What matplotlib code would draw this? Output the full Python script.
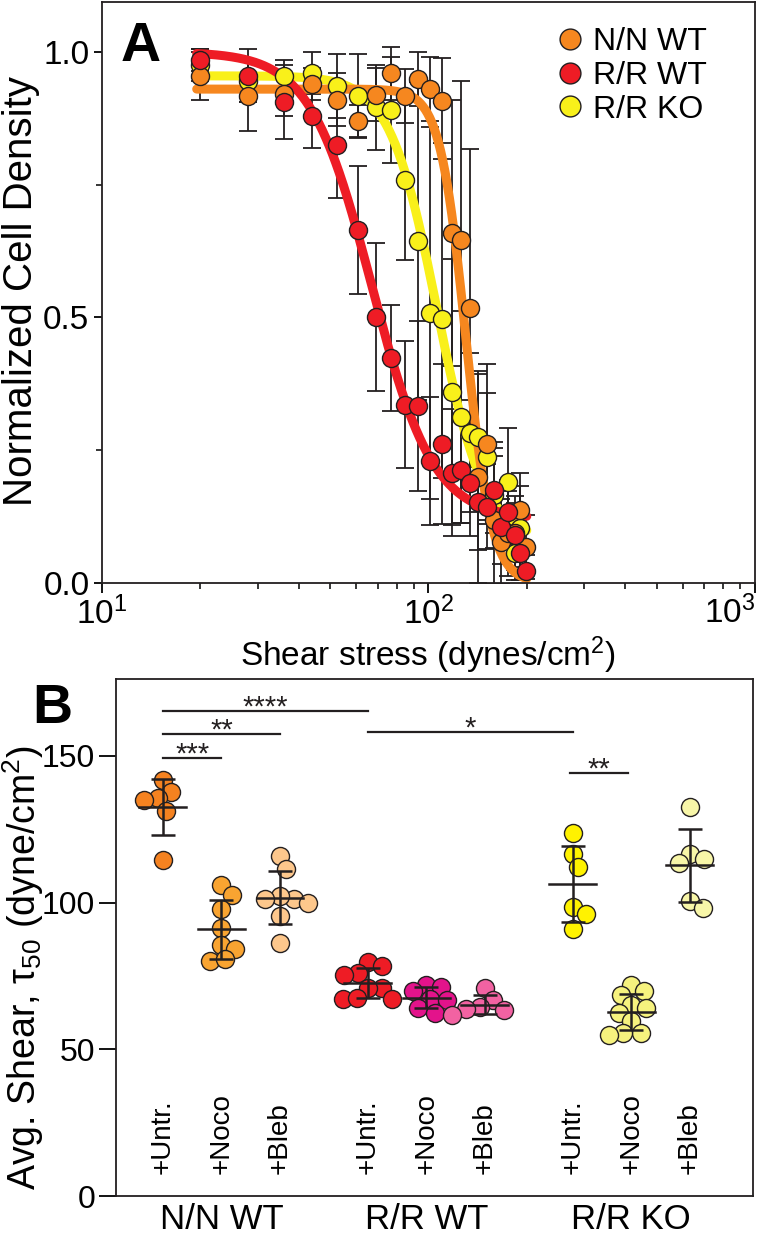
import numpy as np
import matplotlib
matplotlib.use("Agg")
import matplotlib.pyplot as plt
from matplotlib.lines import Line2D

plt.rcParams['font.family'] = ['Liberation Sans', 'DejaVu Sans']
plt.rcParams['mathtext.fontset'] = 'custom'
plt.rcParams['mathtext.rm'] = 'Liberation Sans'
plt.rcParams['mathtext.it'] = 'Liberation Sans:italic'
plt.rcParams['mathtext.bf'] = 'Liberation Sans:bold'
plt.rcParams['mathtext.default'] = 'regular'

# ---------------- Panel A data ----------------
shear = [20, 28, 36, 44, 52.6, 60.7, 69, 77, 85, 93, 101, 110, 118, 126, 134,
         142, 151, 159, 167, 175, 184, 191, 199]
nn_wt = [0.955, 0.917, 0.92, 0.94, 0.91, 0.87, 0.919, 0.96, 0.917, 0.949, 0.93,
         0.908, 0.659, 0.645, 0.518, 0.200, 0.262, 0.119, 0.078, 0.094, 0.094,
         0.137, 0.068]
nn_wt_sd = [0.045, 0.065, 0.04, 0.03, 0.05, 0.03, 0.05, 0.05, 0.05, 0.05, 0.06,
            0.08, 0.25, 0.30, 0.30, 0.20, 0.15, 0.12, 0.08, 0.08, 0.07, 0.07, 0.06]
rr_wt = [0.985, 0.955, 0.906, 0.88, 0.825, 0.665, 0.501, 0.424, 0.336, 0.333,
         0.230, 0.262, 0.208, 0.213, 0.188, 0.153, 0.144, 0.175, 0.106, 0.134,
         0.09, 0.056, 0.023]
rr_wt_sd = [0.02, 0.05, 0.07, 0.06, 0.10, 0.12, 0.14, 0.10, 0.12, 0.16, 0.12,
            0.15, 0.12, 0.10, 0.10, 0.09, 0.08, 0.08, 0.07, 0.06, 0.06, 0.05, 0.03]
rr_ko = [0.975, 0.945, 0.955, 0.96, 0.936, 0.917, 0.896, 0.89, 0.759, 0.644,
         0.508, 0.498, 0.360, 0.313, 0.283, 0.274, 0.238, 0.166, np.nan, 0.191,
         0.056, 0.103, np.nan]
rr_ko_sd = [0.03, 0.04, 0.03, 0.04, 0.06, 0.08, 0.08, 0.10, 0.15, 0.30, 0.35,
            0.30, 0.25, 0.20, 0.15, 0.12, 0.12, 0.10, np.nan, 0.10, 0.05, 0.08, np.nan]

# sigmoid fit parameters: top, bottom, x50, hill
fit_nn_wt = [0.93, 0.0, 130, 11]
fit_rr_wt = [1.0, 0.12, 67, 4.6]
fit_rr_ko = [0.955, 0.08, 106, 6]

series_names = ['N/N WT', 'R/R WT', 'R/R KO']
c_orange = '#F6871F'
c_red = '#EE1C25'
c_yellow = '#F9F01A'
x_ticks = [10, 100, 1000]
x_ticklabels = [r'$10^{1}$', r'$10^{2}$', r'$10^{3}$']

# ---------------- Panel B data ----------------
groups = ['N/N WT', 'R/R WT', 'R/R KO']
treatments = ['+Untr.', '+Noco', '+Bleb']
nn_untr = [141.8, 137.8, 135.5, 135.0, 131.3, 114.5]
nn_noco = [106.0, 102.6, 97.7, 91.2, 85.5, 84.1, 80.1, 80.7]
nn_bleb = [115.9, 111.5, 101.2, 102.2, 101.1, 100.0, 95.4, 86.3]
wt_untr = [79.9, 78.4, 76.1, 75.3, 70.8, 70.8, 67.1, 67.4, 67.1]
wt_noco = [71.9, 71.3, 69.7, 67.1, 66.8, 64.0, 62.5]
wt_bleb = [70.8, 66.8, 64.5, 63.4, 63.6, 61.7]
ko_untr = [123.6, 116.6, 112.0, 98.4, 96.1, 91.0]
ko_noco = [71.9, 69.7, 68.5, 65.1, 64.0, 62.5, 59.5, 55.7, 55.4, 54.9]
ko_bleb = [132.5, 116.6, 114.9, 113.4, 100.5, 98.1]
b_sets = [nn_untr, nn_noco, nn_bleb, wt_untr, wt_noco, wt_bleb, ko_untr, ko_noco, ko_bleb]
b_colors = ['#F58220', '#F9A431', '#FDC78C', '#EE1C25', '#E3138B', '#F262A2',
            '#FFF200', '#F6F27E', '#F8F6A8']
b_pos = [0, 1, 2, 3.5, 4.5, 5.5, 7, 8, 9]
# significance: (x1, x2, y, label)
sig_x1 = [0, 0, 0, 3.5, 6.95]
sig_x2 = [1, 2, 3.5, 7, 7.95]
sig_y = [149.2, 157.5, 165.3, 158.3, 144.2]
sig_lab = ['***', '**', '****', '*', '**']

W, H = 777, 1236
fig = plt.figure(figsize=(W / 100, H / 100), dpi=100)

# ================= Panel A =================
axA = fig.add_axes([102 / W, 1 - 583 / H, (755 - 102) / W, (583 - 2) / H])
axA.set_xscale('log')
axA.set_xlim(10, 1000)
axA.set_ylim(0, 1.094)
xs = np.array(shear, dtype=float)
xf = np.logspace(np.log10(19.5), np.log10(200), 300)

def sig(x, p):
    t, b, c, h = p
    return b + (t - b) / (1 + (x / c) ** h)

data_A = [(rr_ko, rr_ko_sd, fit_rr_ko, c_yellow),
          (nn_wt, nn_wt_sd, fit_nn_wt, c_orange),
          (rr_wt, rr_wt_sd, fit_rr_wt, c_red)]
for ys, sd, p, c in data_A:
    axA.errorbar(xs, ys, yerr=sd, fmt='none', ecolor='#231F20', elinewidth=1.3,
                 capsize=6.5, capthick=1.3, zorder=1)
for ys, sd, p, c in data_A:
    axA.plot(xf, sig(xf, p), color=c, lw=6.5, solid_capstyle='round', zorder=2)
for ys, sd, p, c in data_A:
    axA.plot(xs, ys, 'o', ms=13, mfc=c, mec='#231F20', mew=1.0, zorder=3)

axA.set_yticks([0, 0.5, 1.0])
axA.set_yticklabels(['0.0', '0.5', '1.0'])
axA.set_yticks([0.25, 0.75], minor=True)
axA.set_xticks(x_ticks)
axA.set_xticklabels(x_ticklabels[:-1] + [''])
axA.text(x_ticks[-1], -0.022, x_ticklabels[-1], ha='right', va='top',
         fontsize=24, transform=axA.get_xaxis_transform(), clip_on=False)
axA.tick_params(axis='y', which='major', labelsize=24, length=6, width=1.3,
                direction='out', pad=3)
axA.tick_params(axis='x', which='major', labelsize=24, length=7, width=1.3,
                direction='out', pad=3)
axA.tick_params(axis='both', which='minor', length=4, width=1.1, direction='out')
for s in axA.spines.values():
    s.set_linewidth(1.3)
    s.set_color('#231F20')

fig.text(21 / W, 1 - 291 / H, 'Normalized Cell Density', rotation=90,
         ha='center', va='center', fontsize=29)
fig.text(428 / W, 1 - 666 / H, 'Shear stress (dynes/cm$^{2}$)', ha='center',
         va='baseline', fontsize=24)
axA.text(0.029, 0.8986, 'A', transform=axA.transAxes, fontsize=40,
         fontweight='bold', ha='left', va='baseline')

handles = [Line2D([], [], ls='none', marker='o', ms=15, mfc=c, mec='#231F20', mew=1.0)
           for c in [c_orange, c_red, c_yellow]]
axA.legend(handles, series_names, loc='upper right', bbox_to_anchor=(0.955, 0.99),
           frameon=False, fontsize=23, handletextpad=0.2, labelspacing=0.12,
           handlelength=1.0, borderaxespad=0.2)

# ================= Panel B =================
axB = fig.add_axes([116 / W, 1 - 1196 / H, (753 - 116) / W, (1196 - 679) / H])
axB.set_xlim(-0.8, 10.08)
axB.set_ylim(0, 176.2)

def swarm(vals, center, ax, diam_px):
    tr = ax.transData
    px_unit = tr.transform((1, 0))[0] - tr.transform((0, 0))[0]
    order = np.argsort(vals)[::-1]
    placed = []
    xo = np.zeros(len(vals))
    step = 0.5
    for i in order:
        ypx = tr.transform((0, vals[i]))[1]
        k = 0
        while True:
            cands = [k * step] if k == 0 else [k * step, -k * step]
            ok_off = None
            for off in cands:
                if all((off - px) ** 2 + (ypx - py) ** 2 >= (0.8 * diam_px) ** 2
                       for px, py in placed):
                    ok_off = off
                    break
            if ok_off is not None:
                placed.append((ok_off, ypx))
                xo[i] = ok_off / px_unit
                break
            k += 1
    return center + xo

for vals, col, pos in zip(b_sets, b_colors, b_pos):
    v = np.array(vals)
    xpos = swarm(v, pos, axB, 18)
    axB.plot(xpos, v, 'o', ms=13, mfc=col, mec='#231F20', mew=1.0, zorder=2)
    m = v.mean()
    sd = v.std(ddof=1)
    axB.plot([pos - 0.4, pos + 0.4], [m, m], color='#231F20', lw=1.8, zorder=3)
    axB.errorbar([pos], [m], yerr=[sd], fmt='none', ecolor='#231F20',
                 elinewidth=1.8, capsize=8.5, capthick=1.8, zorder=3)

for x1, x2, y, lab in zip(sig_x1, sig_x2, sig_y, sig_lab):
    axB.plot([x1, x2], [y, y], color='#231F20', lw=1.6)
    axB.text((x1 + x2) / 2, y - 1.6, lab, ha='center', va='baseline', fontsize=21,
             color='#231F20')

for pos, lab in zip(b_pos, treatments * 3):
    axB.text(pos, 7.5, lab, rotation=90, ha='center', va='bottom', fontsize=20)

axB.set_yticks([0, 50, 100, 150])
axB.set_xticks([1, 4.5, 8])
axB.set_xticklabels(groups)
axB.tick_params(axis='y', labelsize=23, length=12, width=1.3, direction='out', pad=3)
axB.tick_params(axis='x', labelsize=25, length=0, pad=5)
for s in axB.spines.values():
    s.set_linewidth(1.3)
    s.set_color('#231F20')

fig.text(23 / W, 1 - 968 / H, r'Avg. Shear, $\tau_{50}$ (dyne/cm$^{2}$)', rotation=90,
         ha='center', va='center', fontsize=27)
fig.text(32 / W, 1 - 723 / H, 'B', fontsize=40, fontweight='bold', ha='left',
         va='baseline')

fig.savefig('out.png', dpi=100)
